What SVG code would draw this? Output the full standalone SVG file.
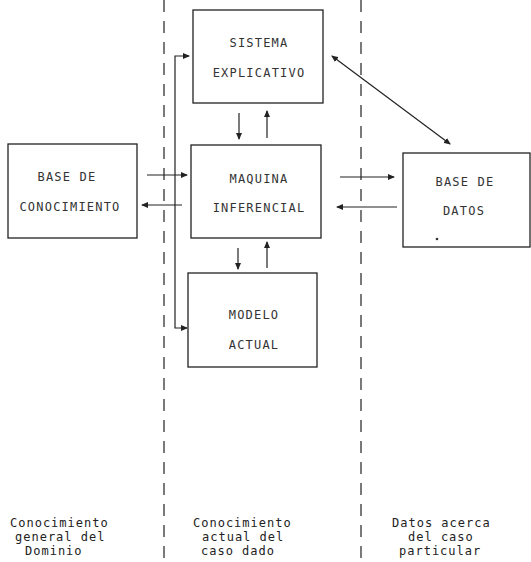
<svg xmlns="http://www.w3.org/2000/svg" width="531" height="562" viewBox="0 0 531 562">
<style>
.box{fill:#fff;stroke:#222;stroke-width:1.3}
.t{font-family:"DejaVu Sans Mono","Liberation Mono",monospace;font-size:12px;letter-spacing:1.2px;fill:#333;text-anchor:middle}
.lb{font-family:"DejaVu Sans Mono","Liberation Mono",monospace;font-size:12px;letter-spacing:1px;fill:#222}
.c{fill:none;stroke:#222;stroke-width:1.2}
.dash{fill:none;stroke:#222;stroke-width:1.2;stroke-dasharray:12 9}
</style>
<defs>
<marker id="ah" markerWidth="7" markerHeight="6" refX="6" refY="3" orient="auto" markerUnits="userSpaceOnUse">
<path d="M0,0 L7,3 L0,6 Z" fill="#222"/>
</marker>
<marker id="ahs" markerWidth="7" markerHeight="6" refX="6" refY="3" orient="auto-start-reverse" markerUnits="userSpaceOnUse">
<path d="M0,0 L7,3 L0,6 Z" fill="#222"/>
</marker>
</defs>
<rect width="531" height="562" fill="#fff"/>
<g id="dividers">
<line class="dash" x1="164" y1="0" x2="164" y2="562"/>
<line class="dash" x1="361" y1="0" x2="361" y2="562"/>
</g>
<g id="sistema">
<rect class="box" x="193" y="10" width="130" height="93"/>
<text class="t" x="259" y="47">SISTEMA</text>
<text class="t" x="259" y="77">EXPLICATIVO</text>
</g>
<g id="base-conocimiento">
<rect class="box" x="8" y="144" width="129" height="94"/>
<text class="t" x="67" y="181">BASE DE</text>
<text class="t" x="70" y="211">CONOCIMIENTO</text>
</g>
<g id="maquina">
<rect class="box" x="191" y="145" width="130" height="93"/>
<text class="t" x="259" y="183">MAQUINA</text>
<text class="t" x="259" y="212">INFERENCIAL</text>
</g>
<g id="base-datos">
<rect class="box" x="403" y="153" width="127" height="94"/>
<text class="t" x="465" y="186">BASE DE</text>
<text class="t" x="464" y="215">DATOS</text>
<circle cx="437" cy="239" r="1.3" fill="#333"/>
</g>
<g id="modelo">
<rect class="box" x="188" y="273" width="129" height="94"/>
<text class="t" x="254" y="319">MODELO</text>
<text class="t" x="254" y="349">ACTUAL</text>
</g>
<g id="connectors">
<line class="c" x1="147" y1="175" x2="187" y2="175" marker-end="url(#ah)"/>
<line class="c" x1="182" y1="205" x2="142" y2="205" marker-end="url(#ah)"/>
<line class="c" x1="340" y1="177" x2="394" y2="177" marker-end="url(#ah)"/>
<line class="c" x1="397" y1="207" x2="337" y2="207" marker-end="url(#ah)"/>
<line class="c" x1="239" y1="113" x2="239" y2="139" marker-end="url(#ah)"/>
<line class="c" x1="267" y1="138" x2="267" y2="111" marker-end="url(#ah)"/>
<line class="c" x1="238" y1="248" x2="238" y2="269" marker-end="url(#ah)"/>
<line class="c" x1="267" y1="268" x2="267" y2="242" marker-end="url(#ah)"/>
<path class="c" d="M189,56 H175 V328 H187" marker-start="url(#ahs)" marker-end="url(#ah)"/>
<line class="c" x1="332" y1="56" x2="450" y2="144" marker-start="url(#ahs)" marker-end="url(#ah)"/>
</g>
<g id="labels">
<text class="lb" x="10" y="527">Conocimiento</text>
<text class="lb" x="15" y="541">general del</text>
<text class="lb" x="25" y="555">Dominio</text>
<text class="lb" x="193" y="527">Conocimiento</text>
<text class="lb" x="202" y="541">actual del</text>
<text class="lb" x="201" y="555">caso dado</text>
<text class="lb" x="392" y="527">Datos acerca</text>
<text class="lb" x="408" y="541">del caso</text>
<text class="lb" x="399" y="555">particular</text>
</g>
</svg>
